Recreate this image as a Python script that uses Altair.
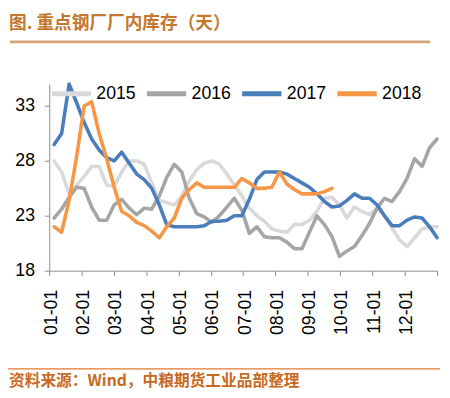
import altair as alt
import pandas as pd

weeks = list(range(52))
tick_labels = ["01-01", "02-01", "03-01", "04-01", "05-01", "06-01",
               "07-01", "08-01", "09-01", "10-01", "11-01", "12-01", ""]
series_names = ["2015", "2016", "2017", "2018"]

s2015 = [28, 27, 25, 25.8, 26.6, 27.5, 27.5, 25.8, 25.7, 27, 28, 28,
         27.7, 26, 24.4, 24.2, 24, 24.8, 26.2, 27.2, 27.8, 28, 27.7, 26.8,
         25.8, 24.8, 23.7, 23, 22.5, 21.8, 21.6, 21.5, 22.2, 22.2, 22.6, 23.4,
         24.6, 24.7, 24, 22.8, 23.8, 23.4, 23.1, 23.7, 23, 21.9, 20.8, 20.2,
         21, 21.8, 22, 22]
s2016 = [22.8, 23.6, 24.7, 25.6, 25.5, 23.8, 22.6, 22.6, 24, 24.5, 23.7, 23.1,
         23.7, 23.6, 24.8, 26.5, 27.7, 27, 24.6, 23.2, 22.9, 22.4, 23, 23.8,
         24.6, 23.5, 21.4, 22, 21.1, 21, 21, 20.6, 20, 20, 21.5, 23,
         22.2, 21.1, 19.3, 19.8, 20.2, 21.2, 22.3, 23.7, 24.6, 24.3, 25.2, 26.4,
         28.2, 27.5, 29.2, 30]
s2017 = [29.5, 30.5, 35, 33.3, 31.5, 30, 29, 28.3, 28, 28.8, 27.8, 26.8,
         26.3, 25.5, 24, 22.2, 22, 22, 22, 22, 22.1, 22.5, 22.5, 22.6,
         23, 23, 24.5, 26.3, 27, 27, 27, 26.8, 26.4, 26, 25.6, 25,
         24.3, 23.8, 23.9, 24.4, 25, 24.6, 24.6, 24, 23, 22.1, 22.1, 22.6,
         22.9, 22.8, 22, 21]
s2018 = [22, 21.5, 24.4, 28.4, 33, 33.4, 30.5, 28.2, 25.6, 23.4, 23, 22.4,
         22.1, 21.6, 21, 22, 22.8, 24.6, 25.4, 26, 25.6, 25.6, 25.6, 25.6,
         25.6, 26.4, 26, 25.5, 25.5, 25.6, 27, 25.9, 25.4, 25, 25, 25,
         25.2, 25.5] + [None] * 14

colors = ["#d9d9d9", "#a5a5a5", "#4a7ebb", "#f79646"]
y_ticks = [18, 23, 28, 33]

rows = []
for name, vals in zip(series_names, [s2015, s2016, s2017, s2018]):
    for w, v in zip(weeks, vals):
        if v is not None:
            rows.append({"week": w, "value": v, "year": name})
df = pd.DataFrame(rows)

xdom = [-0.65, 51.0]
step = (xdom[1] - xdom[0]) / 12
tick_vals = [xdom[0] + k * step for k in range(13)]
label_expr = "[" + ",".join("'" + t + "'" for t in tick_labels) + "][round((datum.value - (%f)) / %f)]" % (xdom[0], step)

axis_color = "#8c8c8c"
font = "Liberation Sans"

lines = alt.Chart(df).mark_line(strokeWidth=3.6, strokeJoin="round", strokeCap="round").encode(
    x=alt.X("week:Q", scale=alt.Scale(domain=xdom, nice=False, zero=False),
            axis=alt.Axis(values=tick_vals, labelExpr=label_expr, labelAngle=270,
                          labelFontSize=18, labelFont=font, labelColor="#000000",
                          tickSize=5, tickColor=axis_color, domainColor=axis_color,
                          labelPadding=14, labelOffset=2, grid=False, title=None)),
    y=alt.Y("value:Q", scale=alt.Scale(domain=[18, 35], nice=False, zero=False),
            axis=alt.Axis(values=y_ticks, labelFontSize=18, labelFont=font, labelColor="#000000",
                          tickSize=5, tickColor=axis_color, domainColor=axis_color,
                          labelPadding=10, grid=False, title=None)),
    color=alt.Color("year:N", scale=alt.Scale(domain=series_names, range=colors),
                    legend=alt.Legend(orient="none", legendX=0, legendY=-13, direction="horizontal",
                                      columns=4, title=None, symbolType="stroke",
                                      symbolSize=1600, symbolStrokeWidth=5,
                                      labelFontSize=18, labelFont=font, labelColor="#000000",
                                      labelOffset=3, columnPadding=0, padding=0)),
)

title_text = alt.Chart(pd.DataFrame({"t": ["图. 重点钢厂厂内库存（天）"]})).mark_text(
    align="left", baseline="middle", fontSize=18, fontWeight="bold",
    font="Noto Sans CJK SC", color="#c4772f"
).encode(x=alt.value(-41), y=alt.value(-61), text="t:N")

title_rule = alt.Chart(pd.DataFrame({"a": [0]})).mark_rule(color="#d6a474", strokeWidth=3).encode(
    x=alt.value(-40), x2=alt.value(388), y=alt.value(-43))

foot_rule = alt.Chart(pd.DataFrame({"a": [0]})).mark_rule(color="#e07a2e", strokeWidth=1.5).encode(
    x=alt.value(-42), x2=alt.value(398), y=alt.value(290))

foot_text = alt.Chart(pd.DataFrame({"t": ["资料来源：Wind，中粮期货工业品部整理"]})).mark_text(
    align="left", baseline="middle", fontSize=16, fontWeight="bold",
    font="Noto Sans CJK SC", color="#c8691e"
).encode(x=alt.value(-41), y=alt.value(302), text="t:N")

chart = alt.layer(lines, title_text, title_rule, foot_rule, foot_text).properties(
    width=395, height=190,
    autosize=alt.AutoSizeParams(type="none"),
    padding={"left": 42, "top": 74, "right": 5, "bottom": 118},
    background="#ffffff",
).configure_view(stroke=None)

chart.save("out.html", embed_options={"renderer": "svg", "actions": False})
